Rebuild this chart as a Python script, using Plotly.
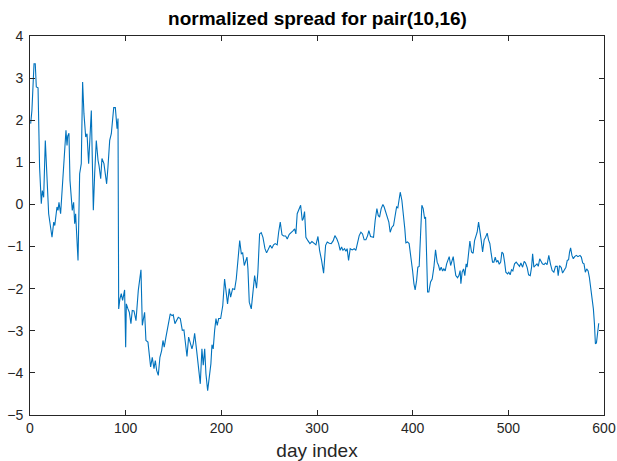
import plotly.graph_objects as go

# day index (x) and normalized spread (y)
day_index = [
    0.7, 2, 4.2, 5.5, 6.6, 8.4, 10, 11.8, 12.9, 14.3, 16, 17.8, 19.5, 23, 24.8, 25.9,
    28.2, 29.3, 30.3, 32, 34.5, 36.2, 37.6, 38.7, 39.4, 40.7, 41.8, 44.2, 45.6, 46.7,
    47.7, 50.2, 51.9, 53.6, 55.0, 56.4, 58.2, 59.6, 61.3, 64.1, 66.2, 67.6, 69.3, 71.1,
    72.1, 73.9, 75.2, 77.3, 78.7, 80.1, 81.5, 83.3, 85.0, 87.5, 89.2, 91.0, 92.0, 92.7,
    94.0, 95.4, 96.8, 98.9, 100, 100.7,
    102.4, 103.8, 105.5, 106.9, 108.7, 110.8, 113.2, 116.0, 117.4, 119.8, 121.2, 123.3,
    126.1, 127.8, 129.6, 131, 132.4, 134.1, 135.8, 137.6, 139, 140.3, 142.1, 144.5,
    146.6, 148.4, 149.7, 151.5, 153.3, 155, 157.1, 159.2, 160.9, 162.7, 164.1, 165.8,
    167.5, 169.3, 170.6, 172.1, 174.2, 176.3, 178, 179.7, 181.1, 182.6, 183.9, 185.7,
    187.4, 189.1, 190.2, 191.5, 193, 194.4, 195.7, 197.2, 199.3, 200.6,
    201.5, 203.4, 204.8, 206.5, 208.3, 209.7, 211.8, 213.9, 215.6, 217.4, 219.2, 220.9,
    222.3, 224, 225.4, 226.8, 227.8, 229.2, 231.3, 233, 234.8, 236.8, 238.2, 240,
    241.7, 243.5, 245.6, 247.3, 249.4, 251.1, 252.9, 254.6, 256.3, 258.4, 259.9, 261.6,
    263.4, 265.1, 267.2, 268.9, 271, 273.1, 275.1, 276.6, 277.9, 279.3, 281.1, 282.9,
    284.6, 285.6, 287, 288.4, 290.5, 292.6, 294.7, 296.8, 298.9,
    301, 302.7, 304.8, 306.9, 309, 310.7, 312.8, 314.9, 317, 318.7, 320.8, 322.6,
    324.2, 325.7, 327.1, 328.8, 330.2, 331.5, 333, 334.7, 336.8, 338.9, 340.6, 342.4,
    344.1, 345.9, 347.6, 349.3, 351.1, 352.9, 354.2, 356, 357.7, 359.1, 360.8, 362.6,
    364, 365.4, 367.1, 368.9, 370.2, 372, 373.4, 375.1, 376.5, 378.3, 380, 381.4,
    383.2, 384.5, 385.9, 387, 388.7, 390.5, 391.8, 392.9, 394.6, 396.3,
    398.4, 399.9, 401.3, 402.6, 404.1, 405.4, 406.8, 408.3, 409.6, 411, 412.5, 413.5,
    414.5, 415.6, 416.9, 418.7, 420.4, 422.2, 423.9, 425.6, 427.1, 428.4, 429.8, 431.3,
    432.6, 434, 435.5, 437.1, 438.2, 439.7, 441, 442.4, 443.8, 445.1, 446.9, 448.3,
    449.6, 450.4, 451.7, 453.2, 454.5, 455.9, 456.9, 458.4, 459.8, 461.5, 463.2, 464.7,
    466, 467.4, 468.9, 470.2, 471.6, 473.1, 474.7, 476.2, 477.9, 479.3, 480.7, 482.1,
    483.5, 484.9, 486.3, 487.7, 489.1, 490.5, 492, 493.3, 494.7, 496.1,
    497.4, 499.2, 500.5, 501.9, 503.3, 504.7, 506.5, 508.2, 510, 511.7, 513.1, 514.9,
    516.6, 518, 519.7, 521.2, 522.9, 524.3, 525.4, 526.7, 528.2, 529.9, 531.3, 532.8,
    534.2, 535.6, 537.3, 538.8, 540.5, 542.3, 544, 545.8, 547.6, 549.3, 551.1, 552.1,
    553.5, 555.3, 556.7, 558.5, 560.2, 561.6, 563, 564, 565.1, 566.5, 567.9, 569.3,
    571.1, 572.8, 574.9, 576.3, 577.7, 579.1, 580.5, 581.9, 583.4, 584.7, 586.1, 587.6,
    588.9, 590, 591, 592.1, 593.1, 594.5,
]

spread = [
    1.92, 2.23, 3.34, 3.34, 2.79, 2.77, 0.89, 0.02, 0.33, 0.17, 1.52, 0.65, -0.22, -0.78, -0.42, -0.50,
    -0.06, -0.14, 0.05, -0.22, 0.73, 1.12, 1.76, 1.40, 1.62, 1.69, 0.57, -0.14, 0.05, -0.46,
    -0.22, -1.33, 0.73, 0.97, 2.91, 2.15, 1.60, 1.68, 0.97, 2.23, -0.14, 0.73, 1.52, 1.05,
    0.93, 0.61, 1.09, 0.97, 0.73, 0.49, 0.89, 1.52, 1.68, 2.30, 2.30, 1.80, 2.04, -2.48,
    -2.24, -2.12, -2.28, -2.03, -3.39, -2.36,
    -2.48, -2.56, -2.83, -2.52, -2.53, -2.76, -2.04, -1.55, -2.87, -2.56, -3.23, -3.27,
    -3.86, -3.63, -3.90, -3.71, -3.94, -4.06, -3.63, -3.47, -3.23, -3.39, -3.15, -2.83,
    -2.60, -2.64, -2.62, -2.83, -2.76, -2.68, -2.71, -2.99, -2.98, -3.31, -3.61, -3.15,
    -3.27, -3.43, -3.31, -3.06, -3.47, -3.86, -4.26, -3.43, -3.82, -3.43, -4.02, -4.42,
    -4.10, -3.78, -3.33, -3.43, -2.99, -2.71, -2.87, -2.71, -2.71, -2.56,
    -2.40, -1.77, -2.08, -2.36, -2.00, -2.20, -2.00, -2.02, -1.77, -1.29, -0.86, -1.17,
    -1.15, -1.45, -1.37, -1.25, -1.53, -2.32, -2.48, -2.00, -1.69, -1.99, -1.61, -0.70,
    -0.67, -0.78, -1.05, -1.15, -1.04, -0.97, -1.04, -0.96, -0.93, -0.96, -0.66, -0.42,
    -0.72, -0.75, -0.75, -0.82, -0.71, -0.67, -0.62, -0.58, -0.70, -0.22, -0.10, -0.02,
    -0.38, -0.34, -0.17, -0.78, -0.86, -0.93, -0.88, -0.93, -0.96,
    -0.76, -1.09, -1.33, -1.63, -0.97, -0.89, -0.92, -0.93, -0.86, -0.74, -0.82, -0.93,
    -1.09, -1.01, -1.09, -1.05, -1.11, -1.05, -1.33, -1.05, -1.08, -1.05, -1.09, -0.89,
    -0.74, -0.66, -0.70, -0.84, -0.84, -0.74, -0.62, -0.76, -0.78, -0.78, -0.38, -0.10,
    -0.26, -0.30, -0.10, 0.00, -0.06, -0.18, -0.30, -0.42, -0.66, -0.54, -0.50, -0.30,
    -0.06, -0.08, 0.13, 0.29, 0.10, -0.22, -0.58, -0.91, -0.89, -0.93,
    -1.25, -1.57, -1.88, -2.03, -1.81, -1.49, -1.47, -0.78, -0.02, -0.10, -0.34, -0.30,
    -1.17, -2.08, -2.08, -1.84, -1.77, -1.49, -1.08, -1.37, -1.45, -1.57, -1.49, -1.58,
    -1.53, -1.58, -1.41, -1.33, -1.24, -1.45, -1.33, -1.24, -1.49, -1.69, -1.74, -1.69,
    -1.57, -1.88, -1.61, -1.53, -1.69, -1.41, -1.49, -1.05, -0.87, -1.13, -1.16, -0.86,
    -0.74, -0.66, -0.42, -0.70, -0.84, -1.13, -0.84, -0.78, -0.68, -0.84, -0.93, -1.17,
    -1.37, -1.37, -1.25, -1.37, -1.33, -1.42, -1.37, -1.13, -1.17, -1.37,
    -1.61, -1.65, -1.61, -1.67, -1.55, -1.58, -1.41, -1.37, -1.41, -1.47, -1.39, -1.49,
    -1.35, -1.39, -1.50, -1.67, -1.69, -1.49, -1.17, -1.49, -1.45, -1.41, -1.47, -1.29,
    -1.35, -1.41, -1.43, -1.39, -1.43, -1.21, -1.41, -1.57, -1.61, -1.47, -1.47, -1.69,
    -1.45, -1.50, -1.63, -1.55, -1.49, -1.33, -1.31, -1.13, -1.03, -1.21, -1.29, -1.24,
    -1.21, -1.24, -1.21, -1.25, -1.39, -1.41, -1.61, -1.53, -1.58, -1.73, -1.96, -2.24,
    -2.48, -2.83, -3.31, -3.29, -3.03, -2.82,
]

title_text = "normalized spread for pair(10,16)"
x_label = "day index"

AX = "#262626"
FONT = "Liberation Sans, Arial, Helvetica, sans-serif"

W, H = 617, 461

fig = go.Figure()
fig.add_trace(go.Scatter(
    x=day_index, y=spread, mode="lines",
    line=dict(color="#0072BD", width=1.1),
    showlegend=False, hoverinfo="skip",
))

axis_common = dict(
    showline=True, linecolor=AX, linewidth=1, mirror="ticks",
    ticks="inside", ticklen=5, tickwidth=1, tickcolor=AX,
    showgrid=False, zeroline=False, automargin=False,
    tickfont=dict(family=FONT, size=14, color=AX),
)

fig.update_layout(
    width=W, height=H,
    margin=dict(l=30, r=13, t=36, b=46),
    paper_bgcolor="white", plot_bgcolor="white",
    hovermode=False,
    title=dict(text="<b>" + title_text + "</b>", x=317.5 / W, xanchor="center",
               y=1 - 18 / H, yref="container", yanchor="middle",
               font=dict(family=FONT, size=19, color="black")),
    xaxis=dict(range=[0, 600], dtick=100, tick0=0,
               title=dict(text=x_label, standoff=10,
                          font=dict(family=FONT, size=19, color=AX)),
               **axis_common),
    yaxis=dict(range=[-5, 4], dtick=1, tick0=0, ticklabelstandoff=3,
               **axis_common),
)

# remove the page's default body margin so the figure fills the window exactly
fig.write_html("out.html",
               config={"displayModeBar": False, "staticPlot": True},
               post_script="document.body.style.margin='0';document.body.style.overflow='hidden';")
